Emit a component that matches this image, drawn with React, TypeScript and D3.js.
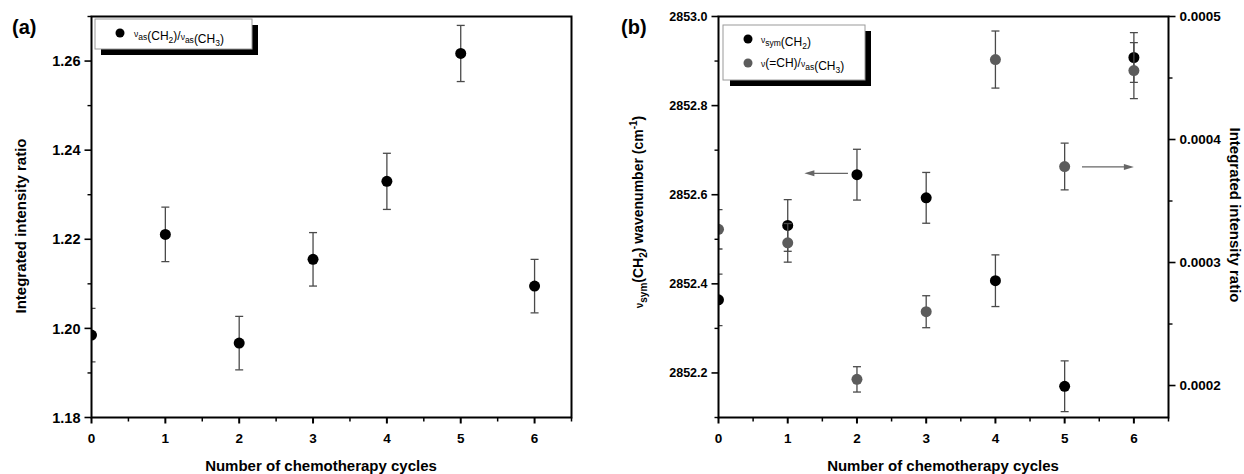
import React from "react";
import * as d3 from "d3";

const cycles = [0, 1, 2, 3, 4, 5, 6];
const ratioA = [1.1985, 1.2211, 1.1967, 1.2155, 1.233, 1.2617, 1.2095];
const ratioAErr = [0.006, 0.0061, 0.006, 0.006, 0.0063, 0.0063, 0.006];
const symCH2 = [2852.364, 2852.531, 2852.645, 2852.593, 2852.407, 2852.17, 2852.908];
const symCH2Err = [0.058, 0.058, 0.057, 0.057, 0.058, 0.057, 0.056];
const ratioB = [0.000327, 0.000316, 0.000205, 0.00026, 0.000465, 0.000378, 0.000456];
const ratioBErr = [0.000016, 0.0000157, 0.0000103, 0.000013, 0.0000232, 0.000019, 0.0000228];

const xTicks = [0, 1, 2, 3, 4, 5, 6];
const xMinor = [0.5, 1.5, 2.5, 3.5, 4.5, 5.5, 6.5];
const yTicksA = [1.18, 1.2, 1.22, 1.24, 1.26];
const yMinorA = [1.19, 1.21, 1.23, 1.25, 1.27];
const yTicksBL = [2852.2, 2852.4, 2852.6, 2852.8, 2853.0];
const yMinorBL = [2852.1, 2852.3, 2852.5, 2852.7, 2852.9];
const yTicksBR = [0.0002, 0.0003, 0.0004, 0.0005];
const yMinorBR = [0.00025, 0.00035, 0.00045];
// arrows: [x0, x1, y] in data units
const arrowLeft = [1.87, 1.24, 2852.648];
const arrowRight = [5.25, 6.0, 0.0003777];

const FONT = "'Liberation Sans', Arial, Helvetica, sans-serif";
const ERR = "#4a4a4a";
const GREY = "#5c5c5c";

function ErrPoints({ xs, ys, errs, x, y, color, r = 5.5 }) {
  return (
    <g>
      {xs.map((c, i) => {
        const cx = x(c);
        const top = y(ys[i] + errs[i]);
        const bot = y(ys[i] - errs[i]);
        return (
          <g key={i}>
            <line x1={cx} x2={cx} y1={top} y2={bot} stroke={ERR} strokeWidth={1.3} />
            <line x1={cx - 4} x2={cx + 4} y1={top} y2={top} stroke={ERR} strokeWidth={1.3} />
            <line x1={cx - 4} x2={cx + 4} y1={bot} y2={bot} stroke={ERR} strokeWidth={1.3} />
            <circle cx={cx} cy={y(ys[i])} r={r} fill={color} />
          </g>
        );
      })}
    </g>
  );
}

function XAxis({ x, y0 }) {
  return (
    <g>
      {xTicks.map((t) => (
        <g key={t}>
          <line x1={x(t)} x2={x(t)} y1={y0} y2={y0 + 6} stroke="#000" strokeWidth={2} />
          <text x={x(t)} y={y0 + 25} textAnchor="middle" fontSize={13.5} fontWeight="bold" fontFamily={FONT}>
            {t}
          </text>
        </g>
      ))}
      {xMinor.map((t) => (
        <line key={t} x1={x(t)} x2={x(t)} y1={y0} y2={y0 + 4} stroke="#000" strokeWidth={1.5} />
      ))}
    </g>
  );
}

function YAxis({ y, x0, ticks, minor, side, fmt, fontSize = 13 }) {
  const dir = side === "left" ? -1 : 1;
  return (
    <g>
      {ticks.map((t) => (
        <g key={t}>
          <line x1={x0} x2={x0 + dir * 7} y1={y(t)} y2={y(t)} stroke="#000" strokeWidth={1.6} />
          <text
            x={x0 + dir * 11}
            y={y(t)}
            dy="0.36em"
            textAnchor={side === "left" ? "end" : "start"}
            fontSize={fontSize}
            fontWeight="bold"
            fontFamily={FONT}
          >
            {fmt(t)}
          </text>
        </g>
      ))}
      {minor.map((t) => (
        <line key={t} x1={x0} x2={x0 + dir * 4} y1={y(t)} y2={y(t)} stroke="#000" strokeWidth={1.4} />
      ))}
    </g>
  );
}

function Nu({ sub }) {
  return (
    <>
      <tspan fontSize={8.5}>ν</tspan>
      <tspan fontSize={8.5} dy={3}>{sub}</tspan>
      <tspan dy={-3}></tspan>
    </>
  );
}

export default function App() {
  const xA = d3.scaleLinear().domain([0, 6.5]).range([91.5, 571.5]);
  const yA = d3.scaleLinear().domain([1.18, 1.27]).range([417.5, 16.5]);
  const xB = d3.scaleLinear().domain([0, 6.5]).range([718.5, 1168.5]);
  const yBL = d3.scaleLinear().domain([2852.1, 2853.0]).range([417.5, 16.5]);
  const yBR = d3.scaleLinear().domain([0.000174, 0.0005]).range([417.5, 16.5]);

  const ah = 7;
  return (
    <svg width={1244} height={474} style={{ position: "absolute", left: 0, top: 0, background: "#fff" }}>
      <defs>
        <clipPath id="clipA">
          <rect x={xA(0)} y={0} width={xA(6.5) - xA(0)} height={418} />
        </clipPath>
        <clipPath id="clipB">
          <rect x={xB(0)} y={0} width={xB(6.5) - xB(0)} height={418} />
        </clipPath>
      </defs>
      <rect width={1244} height={474} fill="#fff" />

      {/* Panel (a) */}
      <text x={12} y={34} fontSize={20} fontWeight="bold" fontFamily={FONT}>(a)</text>
      <g clipPath="url(#clipA)">
        <ErrPoints xs={cycles} ys={ratioA} errs={ratioAErr} x={xA} y={yA} color="#000" />
      </g>
      <rect x={xA(0)} y={yA(1.27)} width={xA(6.5) - xA(0)} height={yA(1.18) - yA(1.27)} fill="none" stroke="#000" strokeWidth={2} />
      <XAxis x={xA} y0={yA(1.18)} />
      <YAxis y={yA} x0={xA(0)} ticks={yTicksA} minor={yMinorA} side="left" fmt={(d) => d3.format(".2f")(d)} fontSize={14.5} />
      <rect x={101} y={25} width={157} height={30} fill="#000" />
      <rect x={95} y={19} width={157} height={30} fill="#fff" stroke="#9a9a9a" strokeWidth={1} />
      <circle cx={120} cy={33} r={4.5} fill="#000" />
      <text x={134} y={37} fontSize={12} fontFamily={FONT}>
        <Nu sub="as" />(CH<tspan fontSize={8.5} dy={3}>2</tspan><tspan dy={-3}>)/</tspan>
        <Nu sub="as" />(CH<tspan fontSize={8.5} dy={3}>3</tspan><tspan dy={-3}>)</tspan>
      </text>
      <text transform={`translate(26,${226}) rotate(-90)`} textAnchor="middle" fontSize={15} fontWeight="bold" fontFamily={FONT}>
        Integrated intensity ratio
      </text>
      <text x={321} y={471} textAnchor="middle" fontSize={15} fontWeight="bold" fontFamily={FONT}>
        Number of chemotherapy cycles
      </text>

      {/* Panel (b) */}
      <text x={621} y={34} fontSize={20} fontWeight="bold" fontFamily={FONT}>(b)</text>
      <g clipPath="url(#clipB)">
        <ErrPoints xs={cycles} ys={symCH2} errs={symCH2Err} x={xB} y={yBL} color="#000" r={5.5} />
        <ErrPoints xs={cycles} ys={ratioB} errs={ratioBErr} x={xB} y={yBR} color={GREY} r={5.5} />
      </g>
      <rect x={xB(0)} y={16.5} width={xB(6.5) - xB(0)} height={401} fill="none" stroke="#000" strokeWidth={2} />
      <XAxis x={xB} y0={417.5} />
      <YAxis y={yBL} x0={xB(0)} ticks={yTicksBL} minor={yMinorBL} side="left" fmt={(d) => d3.format(".1f")(d)} fontSize={12.5} />
      <YAxis y={yBR} x0={xB(6.5)} ticks={yTicksBR} minor={yMinorBR} side="right" fmt={(d) => d3.format(".4f")(d)} fontSize={13.5} />

      {/* arrows */}
      <g stroke="#666" fill="#666">
        <line x1={xB(arrowLeft[0])} x2={xB(arrowLeft[1]) + ah} y1={yBL(arrowLeft[2])} y2={yBL(arrowLeft[2])} strokeWidth={1.3} />
        <path d={`M${xB(arrowLeft[1])},${yBL(arrowLeft[2])} l${ah + 3},-3 l0,6 z`} stroke="none" />
        <line x1={xB(arrowRight[0])} x2={xB(arrowRight[1]) - ah} y1={yBR(arrowRight[2])} y2={yBR(arrowRight[2])} strokeWidth={1.3} />
        <path d={`M${xB(arrowRight[1])},${yBR(arrowRight[2])} l${-(ah + 3)},-3 l0,6 z`} stroke="none" />
      </g>

      <rect x={730} y={31} width={141} height={55} fill="#000" />
      <rect x={723} y={25} width={142} height={55} fill="#fff" stroke="#9a9a9a" strokeWidth={1} />
      <circle cx={748} cy={39} r={4.5} fill="#000" />
      <circle cx={748} cy={63} r={4.5} fill={GREY} />
      <text x={761} y={43} fontSize={12} fontFamily={FONT}>
        <Nu sub="sym" />(CH<tspan fontSize={8.5} dy={3}>2</tspan><tspan dy={-3}>)</tspan>
      </text>
      <text x={761} y={67} fontSize={12} fontFamily={FONT}>
        <tspan fontSize={8.5}>ν</tspan>(=CH)/<Nu sub="as" />(CH<tspan fontSize={8.5} dy={3}>3</tspan><tspan dy={-3}>)</tspan>
      </text>

      <text transform={`translate(643,${212}) rotate(-90)`} textAnchor="middle" fontSize={14} fontWeight="bold" fontFamily={FONT}>
        <tspan fontSize={10}>ν</tspan>
        <tspan fontSize={10} dy={4}>sym</tspan>
        <tspan dy={-4}>(CH</tspan>
        <tspan fontSize={10} dy={4}>2</tspan>
        <tspan dy={-4}>) wavenumber (cm</tspan>
        <tspan fontSize={10} dy={-6}>-1</tspan>
        <tspan dy={6}>)</tspan>
      </text>
      <text transform={`translate(1230,${215}) rotate(90)`} textAnchor="middle" fontSize={15} fontWeight="bold" fontFamily={FONT}>
        Integrated intensity ratio
      </text>
      <text x={943} y={471} textAnchor="middle" fontSize={15} fontWeight="bold" fontFamily={FONT}>
        Number of chemotherapy cycles
      </text>
    </svg>
  );
}
